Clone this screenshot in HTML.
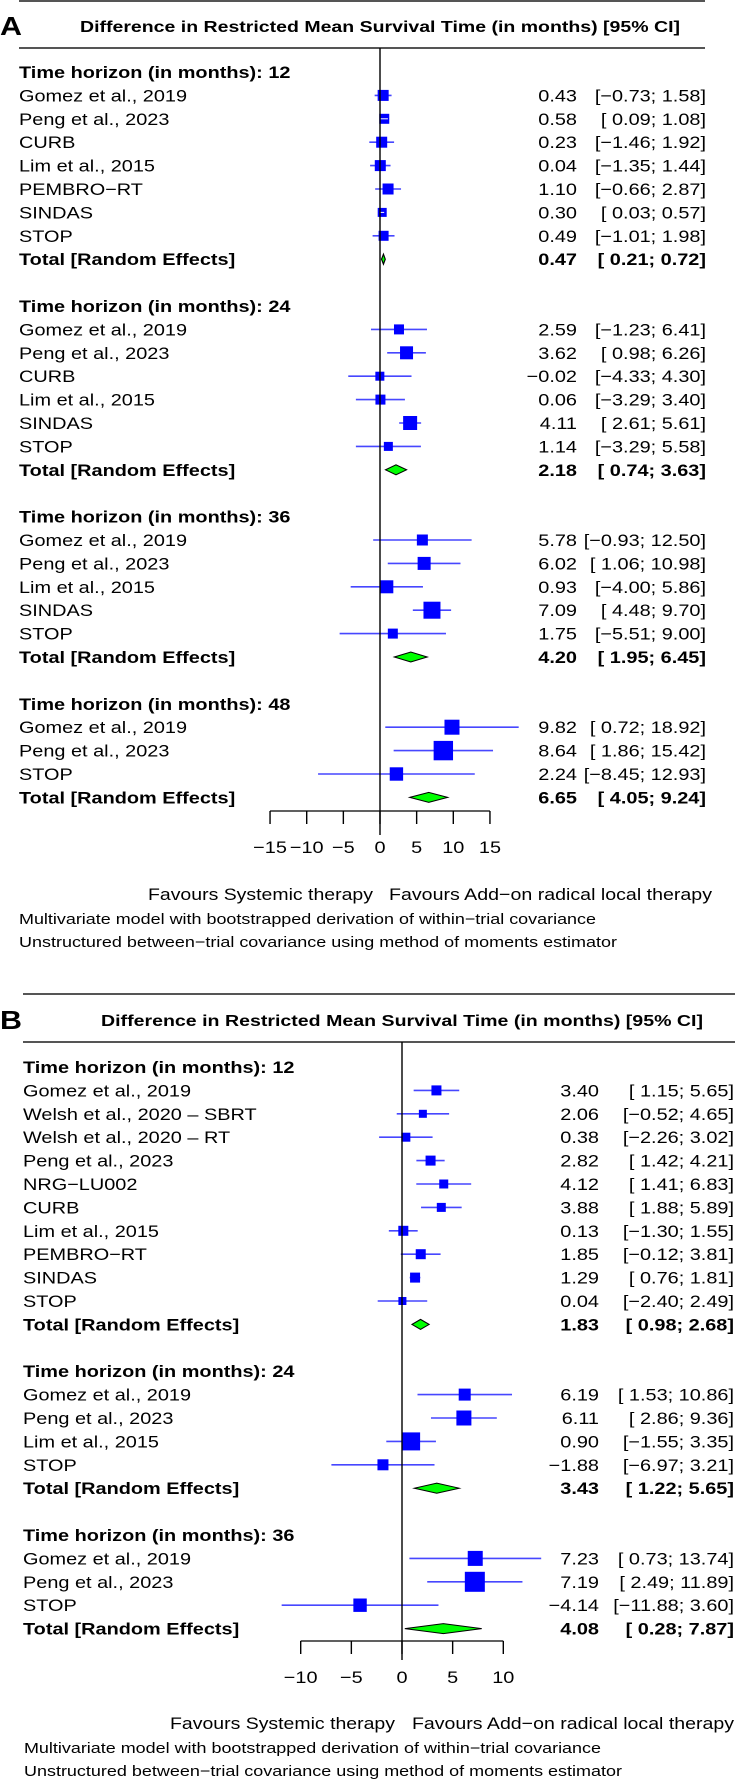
<!DOCTYPE html>
<html><head><meta charset="utf-8"><style>
html,body{margin:0;padding:0;background:#fff;}
svg{display:block;font-family:"Liberation Sans",Arial,sans-serif;}
</style></head><body>
<svg id="fig" width="735" height="1781" viewBox="0 0 628.205 1781" preserveAspectRatio="none" xmlns="http://www.w3.org/2000/svg"></svg>
<script>
// ---------- Panel A data ----------
const aGroups = ["12","24","36","48"];
const aStudies12 = ["Gomez et al., 2019","Peng et al., 2023","CURB","Lim et al., 2015","PEMBRO\u2212RT","SINDAS","STOP"];
const aEst12 = [0.43,0.58,0.23,0.04,1.10,0.30,0.49];
const aLo12 = [-0.73,0.09,-1.46,-1.35,-0.66,0.03,-1.01];
const aHi12 = [1.58,1.08,1.92,1.44,2.87,0.57,1.98];
const aW12 = [5.5,5,5.5,5.5,5.5,4.5,5];
const aTot12 = [0.47,0.21,0.72];
const aStudies24 = ["Gomez et al., 2019","Peng et al., 2023","CURB","Lim et al., 2015","SINDAS","STOP"];
const aEst24 = [2.59,3.62,-0.02,0.06,4.11,1.14];
const aLo24 = [-1.23,0.98,-4.33,-3.29,2.61,-3.29];
const aHi24 = [6.41,6.26,4.30,3.40,5.61,5.58];
const aW24 = [5,6.5,4.5,5,7,4.5];
const aTot24 = [2.18,0.74,3.63];
const aStudies36 = ["Gomez et al., 2019","Peng et al., 2023","Lim et al., 2015","SINDAS","STOP"];
const aEst36 = [5.78,6.02,0.93,7.09,1.75];
const aLo36 = [-0.93,1.06,-4.00,4.48,-5.51];
const aHi36 = [12.50,10.98,5.86,9.70,9.00];
const aW36 = [5.5,6.5,6.5,8.5,5];
const aTot36 = [4.20,1.95,6.45];
const aStudies48 = ["Gomez et al., 2019","Peng et al., 2023","STOP"];
const aEst48 = [9.82,8.64,2.24];
const aLo48 = [0.72,1.86,-8.45];
const aHi48 = [18.92,15.42,12.93];
const aW48 = [7.5,9.7,6.7];
const aTot48 = [6.65,4.05,9.24];
const aTicks = [-15,-10,-5,0,5,10,15];
// ---------- Panel B data ----------
const bGroups = ["12","24","36"];
const bStudies12 = ["Gomez et al., 2019","Welsh et al., 2020 \u2013 SBRT","Welsh et al., 2020 \u2013 RT","Peng et al., 2023","NRG\u2212LU002","CURB","Lim et al., 2015","PEMBRO\u2212RT","SINDAS","STOP"];
const bEst12 = [3.40,2.06,0.38,2.82,4.12,3.88,0.13,1.85,1.29,0.04];
const bLo12 = [1.15,-0.52,-2.26,1.42,1.41,1.88,-1.30,-0.12,0.76,-2.40];
const bHi12 = [5.65,4.65,3.02,4.21,6.83,5.89,1.55,3.81,1.81,2.49];
const bW12 = [5,4,4.5,5,4.5,4.5,5,5,5,4];
const bTot12 = [1.83,0.98,2.68];
const bStudies24 = ["Gomez et al., 2019","Peng et al., 2023","Lim et al., 2015","STOP"];
const bEst24 = [6.19,6.11,0.90,-1.88];
const bLo24 = [1.53,2.86,-1.55,-6.97];
const bHi24 = [10.86,9.36,3.35,3.21];
const bW24 = [6,7.5,9,5.5];
const bTot24 = [3.43,1.22,5.65];
const bStudies36 = ["Gomez et al., 2019","Peng et al., 2023","STOP"];
const bEst36 = [7.23,7.19,-4.14];
const bLo36 = [0.73,2.49,-11.88];
const bHi36 = [13.74,11.89,3.60];
const bW36 = [7.5,10,6.7];
const bTot36 = [4.08,0.28,7.87];
const bTicks = [-10,-5,0,5,10];

const FX = 1.17;
const svg = document.getElementById('fig');
const NS = "http://www.w3.org/2000/svg";
function el(tag, attrs, parent){ const e=document.createElementNS(NS,tag); for(const k in attrs) e.setAttribute(k,attrs[k]); (parent||svg).appendChild(e); return e; }
function txt(x,y,s,opt){ opt=opt||{}; const t=el('text',{x:x/FX,y:y,'font-size':opt.size||17,'font-weight':opt.bold?'bold':'normal','text-anchor':opt.anchor||'start',fill:'#000'});
  if(opt.len){t.setAttribute('textLength',opt.len/FX);t.setAttribute('lengthAdjust','spacingAndGlyphs');}
  t.textContent=s; return t; }
function line(x1,y1,x2,y2,stroke,w){ return el('line',{x1:x1/FX,y1:y1,x2:x2/FX,y2:y2,stroke:stroke,'stroke-width':w}); }
function fmt(v){ const s=Math.abs(v).toFixed(2); return (v<0?'\u2212':'')+s; }
function fmtInt(v){ return (v<0?'\u2212':'')+Math.abs(v); }
function pad(s){ return (s.length<5) ? ' '+s : s; }
function ci(lo,hi){ return '['+pad(fmt(lo))+'; '+pad(fmt(hi))+']'; }

function panel(cfg){
  const X = v => cfg.x0 + v*cfg.scale;
  const Y = k => cfg.y0 + k*23.4;
  let k = 0;
  cfg.groups.forEach((g,gi)=>{
    const hdr = txt(cfg.lx, Y(k)+6, 'Time horizon (in months): '+g, {bold:true});
    
    
    k++;
    const st=cfg.studies[gi], es=cfg.est[gi], lo=cfg.lo[gi], hi=cfg.hi[gi], w=cfg.w[gi];
    for(let i=0;i<st.length;i++){
      const y=Y(k);
      const lab=txt(cfg.lx,y+6,st[i]);
      
      
      const ln=line(X(lo[i]),y,X(hi[i]),y,'#4747ff',1.6);
      
      
      const h=w[i];
      const sq=el('rect',{x:(X(es[i])-h)/FX,y:y-h,width:2*h/FX,height:2*h,fill:'#0000ff'});
      
      
      if(X(hi[i])-X(lo[i]) < 2*h){ line(X(lo[i]),y,X(hi[i]),y,'#ffffff',1); }
      const vt=txt(cfg.vx,y+6,fmt(es[i]),{anchor:'end'});
      
      
      const ct=txt(cfg.cx,y+6,ci(lo[i],hi[i]),{anchor:'end'});
      
      
      k++;
    }
    const t=cfg.tot[gi], y=Y(k);
    const tl=txt(cfg.lx,y+6,'Total [Random Effects]',{bold:true});
    
    
    const pts=[[X(t[1]),y],[X(t[0]),y-5],[X(t[2]),y],[X(t[0]),y+5]].map(p=>(p[0]/FX)+','+p[1]).join(' ');
    const dm=el('polygon',{points:pts,fill:'#00ff00',stroke:'#000','stroke-width':1});
    
    
    const tv=txt(cfg.vx,y+6,fmt(t[0]),{anchor:'end',bold:true});
    
    
    const tc=txt(cfg.cx,y+6,ci(t[1],t[2]),{anchor:'end',bold:true});
    
    
    k+=2;
  });
  const ax=line(X(cfg.ticks[0]),cfg.axY,X(cfg.ticks[cfg.ticks.length-1]),cfg.axY,'#000',1.2);
  
  
  cfg.ticks.forEach(tv=>{
    const tk=line(X(tv),cfg.axY,X(tv),cfg.axY+13,'#000',1.2);
    
    
    const tl=txt(X(tv),cfg.axY+42,fmtInt(tv),{anchor:'middle'});
    
    
  });
  const zl=line(X(0),cfg.zTop,X(0),cfg.zBot,'#000',1.2);
  
  
}

function footer(yF,lx,f1a,f1b,f2a,f2b,m2,u2){
  const a=txt(f1a,yF+6,'Favours Systemic therapy',{len:f1b-f1a});
  
  
  const b=txt(f2a,yF+6,'Favours Add\u2212on radical local therapy',{len:f2b-f2a});
  
  
  const c=txt(lx,yF+30,'Multivariate model with bootstrapped derivation of within\u2212trial covariance',{size:15,len:m2-lx});
  
  
  const d=txt(lx,yF+53,'Unstructured between\u2212trial covariance using method of moments estimator',{size:15,len:u2-lx});
  
  
}

// Panel A
const topA=el('line',{x1:19/FX,y1:1,x2:705/FX,y2:1,stroke:'#555','stroke-width':2});


const hA1=el('line',{x1:19/FX,y1:48,x2:705/FX,y2:48,stroke:'#555','stroke-width':2});


const lA=txt(0,35,'A',{bold:true,size:26});


const tA=txt(80,32,'Difference in Restricted Mean Survival Time (in months) [95% CI]',{bold:true,size:16,len:600});


panel({x0:380,scale:7.33,y0:72,lx:19,vx:577,cx:706,groups:aGroups,
  studies:[aStudies12,aStudies24,aStudies36,aStudies48],
  est:[aEst12,aEst24,aEst36,aEst48],lo:[aLo12,aLo24,aLo36,aLo48],hi:[aHi12,aHi24,aHi36,aHi48],
  w:[aW12,aW24,aW36,aW48],tot:[aTot12,aTot24,aTot36,aTot48],ticks:aTicks,axY:811,zTop:48,zBot:835});
footer(894,19,148,373,389,712,596,617);

// Panel B
const topB=el('line',{x1:23/FX,y1:994,x2:735/FX,y2:994,stroke:'#555','stroke-width':2});


const hB1=el('line',{x1:23/FX,y1:1042,x2:735/FX,y2:1042,stroke:'#555','stroke-width':2});


const lB=txt(0,1029,'B',{bold:true,size:26});


const tB=txt(101,1026,'Difference in Restricted Mean Survival Time (in months) [95% CI]',{bold:true,size:16,len:602});


panel({x0:402,scale:10.13,y0:1067,lx:23,vx:599,cx:734,groups:bGroups,
  studies:[bStudies12,bStudies24,bStudies36],
  est:[bEst12,bEst24,bEst36],lo:[bLo12,bLo24,bLo36],hi:[bHi12,bHi24,bHi36],
  w:[bW12,bW24,bW36],tot:[bTot12,bTot24,bTot36],ticks:bTicks,axY:1641,zTop:1042,zBot:1660});
footer(1723,24,170,395,412,734,601,622);
</script>
</body></html>
